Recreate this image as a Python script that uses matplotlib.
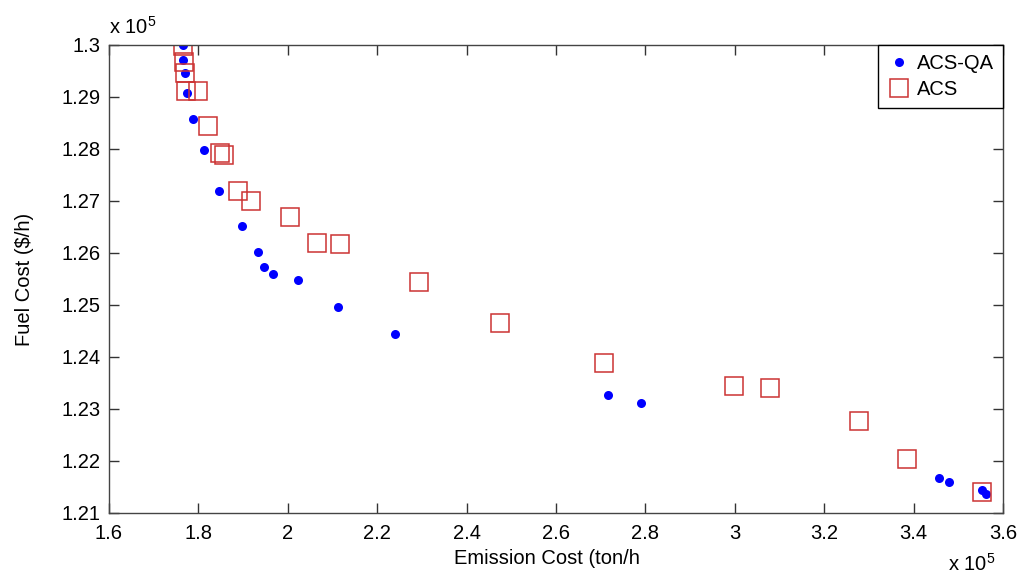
import numpy as np
import matplotlib
matplotlib.use("Agg")
from matplotlib import pyplot as plt
from matplotlib.ticker import FormatStrFormatter, MultipleLocator

plt.rcParams['font.family'] = ['Liberation Sans', 'DejaVu Sans']
plt.rcParams['mathtext.default'] = 'regular'

# Pareto fronts, both objectives in units of 1e5
acs_qa_emission = [1.765, 1.765, 1.770, 1.7745, 1.789, 1.812, 1.846, 1.897, 1.934,
                   1.9475, 1.968, 2.024, 2.1115, 2.241, 2.717, 2.790, 3.457, 3.479,
                   3.554, 3.561]
acs_qa_fuel = [1.3000, 1.2971, 1.2947, 1.2907, 1.2857, 1.2799, 1.2720, 1.2652, 1.2601,
               1.2574, 1.2560, 1.2548, 1.2496, 1.2445, 1.2326, 1.2312, 1.2167, 1.2159,
               1.2144, 1.2137]

acs_emission = [1.765, 1.767, 1.770, 1.773, 1.800, 1.821, 1.848, 1.857, 1.888, 1.918,
                2.006, 2.065, 2.117, 2.2935, 2.475, 2.708, 2.999, 3.079, 3.279, 3.386,
                3.554]
acs_fuel = [1.2999, 1.2967, 1.2947, 1.2912, 1.2912, 1.2845, 1.2792, 1.2788, 1.2719, 1.2700,
            1.2669, 1.2619, 1.2617, 1.2544, 1.2465, 1.2388, 1.2344, 1.2340, 1.2276, 1.2204,
            1.2140]

FS = 14.5

fig = plt.figure(figsize=(10.23, 5.79), dpi=100)
ax = fig.add_axes([0.1065, 0.114, 0.8739, 0.8083])

ax.plot(acs_qa_emission, acs_qa_fuel, 'o', color='#0000ff', markersize=6.5,
        markeredgewidth=0, label='ACS-QA')
ax.plot(acs_emission, acs_fuel, 's', markerfacecolor='none', markeredgecolor='#cc3333',
        markersize=12.5, markeredgewidth=1.1, label='ACS')

ax.set_xlim(1.6, 3.6)
ax.set_ylim(1.21, 1.30)
ax.xaxis.set_major_locator(MultipleLocator(0.2))
ax.yaxis.set_major_locator(MultipleLocator(0.01))
ax.xaxis.set_major_formatter(FormatStrFormatter('%g'))
ax.yaxis.set_major_formatter(FormatStrFormatter('%g'))
ax.tick_params(direction='in', length=7, width=1, colors='#333333', labelcolor='black',
               labelsize=FS, top=True, right=True)
ax.tick_params(axis='x', pad=8)
ax.tick_params(axis='y', pad=6)
for s in ax.spines.values():
    s.set_color('#444444')
    s.set_linewidth(1)

ax.set_xlabel('Emission Cost (ton/h', fontsize=FS)
ax.set_ylabel('Fuel Cost ($/h)', fontsize=FS)
ax.xaxis.set_label_coords(0.49, -0.077)
ax.yaxis.set_label_coords(-0.084, 0.5)

fig.text(0.107, 0.935, r'x 10$^5$', fontsize=FS, ha='left', va='bottom')
fig.text(0.927, 0.008, r'x 10$^5$', fontsize=FS, ha='left', va='bottom')

leg = ax.legend(loc='upper right', borderaxespad=0, fontsize=FS, fancybox=False,
                framealpha=1, edgecolor='black', handletextpad=0.3, handlelength=1.2,
                borderpad=0.45, labelspacing=0.35)
leg.get_frame().set_linewidth(1)

fig.savefig('out.png', dpi=100)
